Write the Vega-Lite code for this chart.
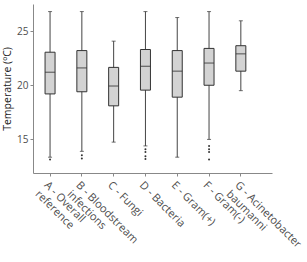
{
  "$schema": "https://vega.github.io/schema/vega-lite/v6.json",
  "width": 239,
  "height": 169,
  "autosize": {"type": "none"},
  "padding": {"left": 33, "top": 4, "right": 35, "bottom": 89},
  "background": "white",
  "config": {
    "view": {"stroke": null},
    "font": "Open Sans",
    "axis": {"labelFont": "Open Sans", "titleFont": "Open Sans", "labelColor": "#4d4d4d", "titleColor": "#222", "domainColor": "#888", "tickColor": "#888", "grid": false, "titleFontWeight": "normal", "labelFontSize": 10, "titleFontSize": 10.5, "tickSize": 3}
  },
  "datasets": {
    "stats": [
      {"group": "A - Overall|\u00a0\u00a0reference", "lower": 13.36, "q1": 19.2, "median": 21.2, "q3": 23.05, "upper": 26.8},
      {"group": "B - Bloodstream|\u00a0\u00a0\u00a0\u00a0\u00a0infections", "lower": 13.9, "q1": 19.4, "median": 21.6, "q3": 23.2, "upper": 26.8},
      {"group": "C - Fungi", "lower": 14.75, "q1": 18.1, "median": 19.93, "q3": 21.65, "upper": 24.07},
      {"group": "D - Bacteria", "lower": 14.4, "q1": 19.55, "median": 21.75, "q3": 23.3, "upper": 26.8},
      {"group": "E - Gram(+)", "lower": 13.36, "q1": 18.9, "median": 21.3, "q3": 23.2, "upper": 26.25},
      {"group": "F - Gram(-)", "lower": 15.0, "q1": 20.0, "median": 22.05, "q3": 23.4, "upper": 26.8},
      {"group": "G - Acinetobacter|\u00a0\u00a0\u00a0\u00a0\u00a0\u00a0baumanni", "lower": 19.5, "q1": 21.3, "median": 22.9, "q3": 23.65, "upper": 25.95}
    ],
    "outliers": [
      {"group": "A - Overall|\u00a0\u00a0reference", "value": 13.15},
      {"group": "B - Bloodstream|\u00a0\u00a0\u00a0\u00a0\u00a0infections", "value": 13.55},
      {"group": "B - Bloodstream|\u00a0\u00a0\u00a0\u00a0\u00a0infections", "value": 13.25},
      {"group": "D - Bacteria", "value": 14.1},
      {"group": "D - Bacteria", "value": 13.85},
      {"group": "D - Bacteria", "value": 13.45},
      {"group": "D - Bacteria", "value": 13.2},
      {"group": "F - Gram(-)", "value": 14.4},
      {"group": "F - Gram(-)", "value": 14.1},
      {"group": "F - Gram(-)", "value": 13.85},
      {"group": "F - Gram(-)", "value": 13.15}
    ]
  },
  "encoding": {
    "x": {
      "field": "group", "type": "nominal", "sort": null,
      "scale": {"paddingInner": 0, "paddingOuter": 0.258, "align": 0.07,
        "domain": ["A - Overall|\u00a0\u00a0reference", "B - Bloodstream|\u00a0\u00a0\u00a0\u00a0\u00a0infections", "C - Fungi", "D - Bacteria", "E - Gram(+)", "F - Gram(-)", "G - Acinetobacter|\u00a0\u00a0\u00a0\u00a0\u00a0\u00a0baumanni"]},
      "axis": {"title": "Group", "titleFontSize": 11, "labelFontSize": 11, "labelAngle": 45, "labelAlign": "left", "labelBaseline": "top", "labelPadding": 3, "labelLineHeight": 12.5, "labelExpr": "split(datum.label, '|')", "titlePadding": 36, "labelLimit": 200}
    }
  },
  "layer": [
    {
      "data": {"name": "stats"},
      "mark": {"type": "rule", "color": "#444", "strokeWidth": 1},
      "encoding": {
        "y": {"field": "lower", "type": "quantitative", "scale": {"domain": [11.9, 27.5], "nice": false, "zero": false},
          "axis": {"title": "Temperature (ºC)", "values": [15, 20, 25], "titlePadding": 4}},
        "y2": {"field": "upper"}
      }
    },
    {
      "data": {"name": "stats"},
      "mark": {"type": "tick", "color": "#333", "size": 4, "thickness": 1},
      "encoding": {"y": {"field": "lower", "type": "quantitative"}}
    },
    {
      "data": {"name": "stats"},
      "mark": {"type": "tick", "color": "#333", "size": 4, "thickness": 1},
      "encoding": {"y": {"field": "upper", "type": "quantitative"}}
    },
    {
      "data": {"name": "stats"},
      "mark": {"type": "bar", "size": 10, "fill": "#d3d3d3", "stroke": "#333", "strokeWidth": 1},
      "encoding": {"y": {"field": "q1", "type": "quantitative"}, "y2": {"field": "q3"}}
    },
    {
      "data": {"name": "stats"},
      "mark": {"type": "tick", "color": "#333", "size": 10, "thickness": 1.2},
      "encoding": {"y": {"field": "median", "type": "quantitative"}}
    },
    {
      "data": {"name": "outliers"},
      "mark": {"type": "circle", "color": "#333", "size": 4, "opacity": 1},
      "encoding": {"y": {"field": "value", "type": "quantitative"}}
    }
  ]
}
